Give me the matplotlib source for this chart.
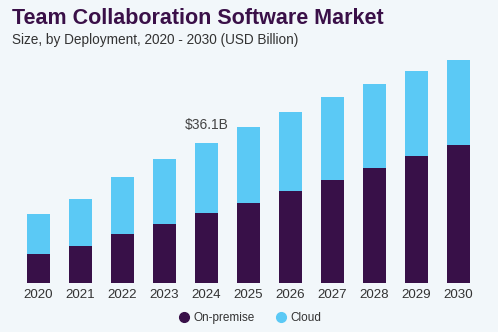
import matplotlib.pyplot as plt
import numpy as np

# Market size data (USD Billion)
years = ["2020", "2021", "2022", "2023", "2024", "2025", "2026", "2027", "2028", "2029", "2030"]
on_premise = [7.5, 9.6, 12.6, 15.2, 18.0, 20.7, 23.7, 26.6, 29.7, 32.7, 35.7]
cloud = [10.3, 12.1, 14.8, 16.7, 18.1, 19.4, 20.4, 21.2, 21.5, 21.8, 21.7]
highlight_year = "2024"
highlight_label = "$36.1B"

# Colours
bg_color = "#f2f7fa"
onprem_color = "#381048"
cloud_color = "#5bc9f5"
text_color = "#333333"

plt.rcParams['font.family'] = ['Liberation Sans', 'DejaVu Sans']

fig = plt.figure(figsize=(4.98, 3.32), dpi=100)
fig.patch.set_facecolor(bg_color)

# Axes placed in pixel terms: baseline ~ y=283, bars 42px apart
W, H = 498, 332
ax = fig.add_axes([7 / W, 48.7 / H, 483 / W, 241 / H])
ax.set_facecolor(bg_color)

x = np.arange(len(years))
ax.bar(x, on_premise, width=0.55, color=onprem_color, label="On-premise")
ax.bar(x, cloud, width=0.55, bottom=on_premise, color=cloud_color, label="Cloud")

ax.set_xlim(-0.75, 10.75)
ax.set_ylim(0, 62)

ax.set_xticks(x)
ax.set_xticklabels(years, fontsize=9.6, color=text_color)
ax.tick_params(axis='x', length=0, pad=4)
ax.set_yticks([])
for side in ['top', 'right', 'left', 'bottom']:
    ax.spines[side].set_visible(False)

# Annotation above the highlighted bar
i = years.index(highlight_year)
total = on_premise[i] + cloud[i]
ax.annotate(highlight_label, (x[i], total), xytext=(0, 8), textcoords='offset points',
            ha='center', va='bottom', fontsize=10, color="#444444")

# Title and subtitle
fig.text(12 / W, 1 - 19 / H, "Team Collaboration Software Market", fontsize=15.5,
         fontweight='heavy', color="#3a1048", va='center', ha='left')
fig.text(12 / W, 1 - 40 / H, "Size, by Deployment, 2020 - 2030 (USD Billion)", fontsize=9.8,
         color=text_color, va='center', ha='left')

# Legend with round markers
handles = [
    plt.Line2D([], [], marker='o', linestyle='', markersize=7, color=onprem_color),
    plt.Line2D([], [], marker='o', linestyle='', markersize=7, color=cloud_color),
]
fig.legend(handles, ["On-premise", "Cloud"], loc='center', bbox_to_anchor=(250 / W, 1 - 318 / H),
           ncol=2, frameon=False, fontsize=8.5, handlelength=0.8, handletextpad=0.4,
           columnspacing=1.8, labelcolor=text_color)

plt.savefig("out.png", dpi=100, facecolor=bg_color)
plt.close()
